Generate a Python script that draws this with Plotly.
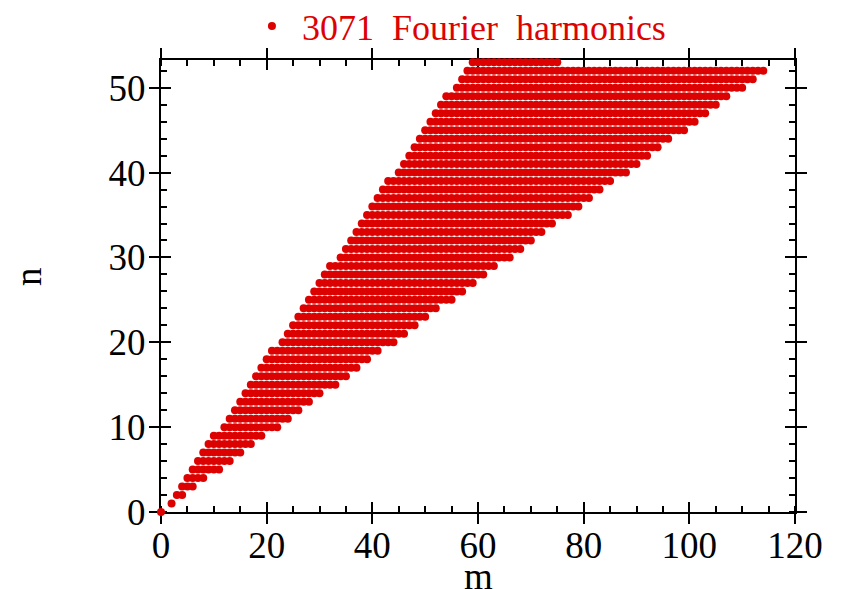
import plotly.graph_objects as go

# Rows of harmonics: toroidal index n with poloidal index m running from m_start to m_end
n_rows = list(range(0, 54))
m_start = [0, 2, 3, 4, 5, 6, 7, 8, 9, 10,
           12, 13, 14, 15, 16, 17, 18, 19, 20, 21,
           23, 24, 25, 26, 27, 28, 29, 30, 31, 32,
           34, 35, 36, 37, 38, 39, 40, 41, 42, 43,
           45, 46, 47, 48, 49, 50, 51, 52, 53, 54,
           56, 57, 58, 59]
m_end = [0, 2, 4, 6, 8, 11, 13, 15, 17, 19,
         22, 24, 26, 28, 30, 33, 35, 37, 39, 41,
         44, 46, 48, 50, 52, 55, 57, 59, 61, 63,
         66, 68, 70, 72, 74, 77, 79, 81, 83, 85,
         88, 90, 92, 94, 96, 99, 101, 103, 105, 107,
         110, 112, 114, 75]

legend_label = "3071\u00a0\u00a0Fourier\u00a0\u00a0harmonics"
x_title = "m"
y_title = "n"
x_ticks = [0, 20, 40, 60, 80, 100, 120]
y_ticks = [0, 10, 20, 30, 40, 50]

xs, ys = [], []
for n, a, b in zip(n_rows, m_start, m_end):
    for m in range(a, b + 1):
        xs.append(m)
        ys.append(n)

RED = "rgb(221,2,2)"
FONT = "Liberation Serif, Times New Roman, serif"

fig = go.Figure()
fig.add_trace(go.Scatter(
    x=xs, y=ys, mode="markers", name=legend_label,
    marker=dict(color=RED, size=8, line=dict(width=0)),
    cliponaxis=False, showlegend=True,
))
# invisible trace for the overlay axes (inside half of crossing ticks)
fig.add_trace(go.Scatter(x=[None], y=[None], xaxis="x2", yaxis="y2",
                         showlegend=False, hoverinfo="skip"))

common = dict(showline=True, linecolor="black", linewidth=2, showgrid=False,
              zeroline=False, tickcolor="black", tickwidth=2, layer="below traces")

fig.update_layout(
    width=843, height=589,
    margin=dict(l=161, r=48, t=60, b=77, autoexpand=False),
    paper_bgcolor="white", plot_bgcolor="white",
    font=dict(family=FONT, size=37, color="black"),
    xaxis=dict(range=[0, 120], tickvals=x_ticks, ticks="outside", ticklen=10,
               mirror="allticks", automargin=False, ticklabelstandoff=-10,
               minor=dict(dtick=5, ticks="inside", ticklen=6, tickwidth=2, tickcolor="black"),
               **common),
    yaxis=dict(range=[0, 53.27], tickvals=y_ticks, ticks="outside", ticklen=10,
               mirror="allticks", automargin=False, ticklabelstandoff=-4,
               minor=dict(dtick=2, ticks="inside", ticklen=6, tickwidth=2, tickcolor="black"),
               **common),
    xaxis2=dict(range=[0, 120], tickvals=x_ticks, ticks="inside", ticklen=10,
                overlaying="x", anchor="y2", showticklabels=False, mirror="allticks",
                **common),
    yaxis2=dict(range=[0, 53.27], tickvals=y_ticks, ticks="inside", ticklen=10,
                overlaying="y", anchor="x2", showticklabels=False, mirror="allticks",
                **common),
    annotations=[
        dict(text=x_title, xref="paper", yref="paper", x=0.5, y=-0.142,
             xanchor="center", yanchor="middle", showarrow=False,
             font=dict(family=FONT, size=37, color="black")),
        dict(text=y_title, xref="paper", yref="paper", x=-0.208, y=0.52,
             xanchor="center", yanchor="middle", showarrow=False, textangle=-90,
             font=dict(family=FONT, size=37, color="black")),
    ],
    showlegend=True,
    legend=dict(orientation="h", x=0.466, xanchor="center", y=1 - 26 / 589,
                yanchor="middle", yref="container", itemwidth=50,
                font=dict(family=FONT, size=36, color=RED),
                bgcolor="rgba(0,0,0,0)"),
)

fig.write_html("out.html")
